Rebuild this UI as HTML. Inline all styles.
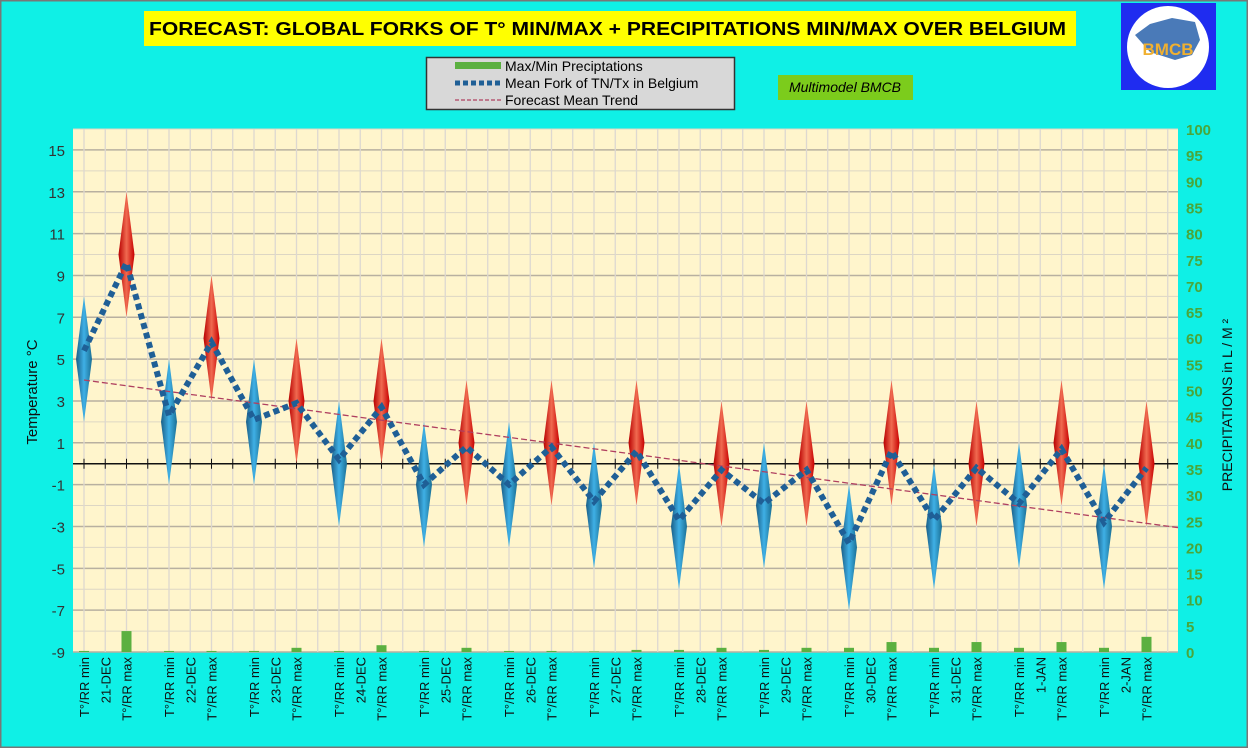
<!DOCTYPE html>
<html><head><meta charset="utf-8"><style>
html,body{margin:0;padding:0;background:#0ff0e6;}
svg{display:block;font-family:"Liberation Sans",Arial,sans-serif;}
</style></head><body>
<svg id="chart" width="1248" height="748" viewBox="0 0 1248 748" xmlns="http://www.w3.org/2000/svg">
<defs>
<linearGradient id="gBlue" x1="0" x2="1" y1="0" y2="0"><stop offset="0" stop-color="#1a5e86"/><stop offset="0.5" stop-color="#3fb0e6"/><stop offset="1" stop-color="#1a6f94"/></linearGradient>
<linearGradient id="gRed" x1="0" x2="1" y1="0" y2="0"><stop offset="0" stop-color="#b80000"/><stop offset="0.5" stop-color="#f06a50"/><stop offset="1" stop-color="#c80000"/></linearGradient>
</defs>
<rect x="0.5" y="0.5" width="1247" height="747" fill="#0ff0e6" stroke="#777" stroke-width="2"/>
<rect x="144" y="11" width="932" height="35" fill="#ffff00"/>
<text x="149" y="35" font-size="18" font-weight="bold" textLength="917" lengthAdjust="spacingAndGlyphs">FORECAST: GLOBAL FORKS OF T° MIN/MAX + PRECIPITATIONS MIN/MAX OVER  BELGIUM</text>
<g>
<rect x="1121" y="3" width="95" height="87" fill="#1f2cf0"/>
<circle cx="1168" cy="47" r="41" fill="#fff"/>
<path d="M1135 35 L1150 24 L1172 18 L1195 22 L1200 40 L1192 55 L1175 60 L1150 52 Z" fill="#4a7ab8"/>
<text x="1168" y="55" font-size="17" font-weight="bold" fill="#f0b030" text-anchor="middle">BMCB</text>
</g>
<g>
<rect x="426.5" y="57.5" width="308" height="52" fill="#d8d8d8" stroke="#333" stroke-width="1.5"/>
<rect x="455" y="62" width="46" height="7" fill="#5bb040"/>
<text x="505" y="71" font-size="14">Max/Min Preciptations</text>
<line x1="455" y1="83" x2="501" y2="83" stroke="#1f5f96" stroke-width="5" stroke-dasharray="5,3"/>
<text x="505" y="88" font-size="14">Mean Fork of TN/Tx in Belgium</text>
<line x1="455" y1="100" x2="501" y2="100" stroke="#b04060" stroke-width="1.3" stroke-dasharray="4,2"/>
<text x="505" y="105" font-size="14">Forecast Mean Trend</text>
</g>
<rect x="778" y="75" width="135" height="25" fill="#7ccc1c"/>
<text x="845" y="92" font-size="14" font-style="italic" text-anchor="middle">Multimodel BMCB</text>
<rect x="73" y="129" width="1105" height="523" fill="#fff5cc"/>
<g id="grid"></g><g id="bars"></g><g id="marks"></g><g id="axes"></g>
<text transform="translate(37,392) rotate(-90)" font-size="15" text-anchor="middle" fill="#111">Temperature  °C</text>
<text transform="translate(1232,405) rotate(-90)" font-size="14" text-anchor="middle" fill="#111">PRECIPITATIONS in L / M ²</text>
</svg>
<script>
const days = ["21-DEC","22-DEC","23-DEC","24-DEC","25-DEC","26-DEC","27-DEC","28-DEC","29-DEC","30-DEC","31-DEC","1-JAN","2-JAN"];
const forkTop =    [8,13, 5,9, 5,6, 3,6, 2,4, 2,4, 1,4, 0,3, 1,3, -1,4, 0,3, 1,4, 0,3];
const forkBottom = [2,7, -1,3, -1,0, -3,0, -4,-2, -4,-2, -5,-2, -6,-3, -5,-3, -7,-2, -6,-3, -5,-2, -6,-3];
const meanFork =   [5.4,9.6, 2.3,5.8, 2.1,2.9, 0.2,2.7, -1,0.8, -1,0.8, -1.8,0.6, -2.7,-0.3, -1.9,-0.3, -3.8,0.6, -2.7,-0.2, -1.9,0.7, -2.8,-0.2];
const precip =     [0.2,4, 0.2,0.2, 0.2,0.8, 0.2,1.3, 0.2,0.8, 0.2,0.2, 0.1,0.4, 0.4,0.8, 0.4,0.8, 0.8,1.9, 0.8,1.9, 0.8,1.9, 0.8,2.9];
const trendEnds = [4.0, -2.85];
const tempTicks = [-9,-7,-5,-3,-1,1,3,5,7,9,11,13,15];
const precipTicks = [0,5,10,15,20,25,30,35,40,45,50,55,60,65,70,75,80,85,90,95,100];

const NS="http://www.w3.org/2000/svg";
const PL=73, PR=1178, PB=652, PT=129;
const yT = v => PB - (v+9)*(PB-PT)/25;
const yP = v => PB - v*(PB-PT)/100;
const slot = 21.25;
const xS = s => 84 + s*slot;
const xPt = i => xS(Math.floor(i/2)*4 + (i%2)*2);
function mk(tag, attrs, parent){const e=document.createElementNS(NS,tag);for(const k in attrs)e.setAttribute(k,attrs[k]);parent.appendChild(e);return e;}
const grid=document.getElementById('grid'), bars=document.getElementById('bars'), marks=document.getElementById('marks'), axes=document.getElementById('axes');

// grid
for(let v=-9; v<=16; v++){
  const g=mk('line',{x1:PL,x2:PR,y1:yT(v),y2:yT(v),stroke:(v%2!==0)?'#b8b0a0':'#ddd6c4','stroke-width':(v%2!==0)?1.5:1},grid);
  
  
}
for(let x=84; x<PR; x+=slot){
  const g=mk('line',{x1:x,x2:x,y1:PT,y2:PB,stroke:'#ddd8d0','stroke-width':1.3},grid);
  
  
}
// zero line
const z=mk('line',{x1:PL,x2:PR,y1:yT(0),y2:yT(0),stroke:'#111','stroke-width':1.5},grid);


for(let x=84; x<PR; x+=slot){
  const t=mk('line',{x1:x,x2:x,y1:yT(0)-5,y2:yT(0)+5,stroke:'#111','stroke-width':1},grid);
  
  
}
// precip bars
precip.forEach((v,i)=>{
  const b=mk('rect',{x:xPt(i)-5,y:yP(v),width:10,height:PB-yP(v),fill:'#5bb040'},bars);
  
  
});
// diamonds
forkTop.forEach((t,i)=>{
  const x=xPt(i), b=forkBottom[i], m=(yT(t)+yT(b))/2, w=8;
  const p=mk('path',{d:`M${x},${yT(t)} L${x+w},${m} L${x},${yT(b)} L${x-w},${m} Z`,fill:i%2?'url(#gRed)':'url(#gBlue)'},marks);
  
  
});
// trend
const tr=mk('line',{x1:xPt(0),y1:yT(trendEnds[0]),x2:xPt(25)+(PR-xPt(25)),y2:yT(trendEnds[0]+(trendEnds[1]-trendEnds[0])*(PR-xPt(0))/(xPt(25)-xPt(0))),stroke:'#b04060','stroke-width':1.3,'stroke-dasharray':'6,3'},marks);


// mean fork
const pts=meanFork.map((v,i)=>xPt(i)+','+yT(v)).join(' ');
const ml=mk('polyline',{points:pts,fill:'none',stroke:'#1f5f96','stroke-width':6,'stroke-dasharray':'6,4'},marks);


// axes labels
tempTicks.forEach(v=>{
  const t=mk('text',{x:65,y:yT(v)+6,'font-size':15,'text-anchor':'end',fill:'#333'},axes);
  t.textContent=v;
  
  
});
precipTicks.forEach(v=>{
  const t=mk('text',{x:1186,y:yP(v)+6,'font-size':15,'font-weight':'bold',fill:'#4aa63a'},axes);
  t.textContent=v;
  
  
});
days.forEach((d,k)=>{
  const labs=[['T°/RR min',0],[d,1],['T°/RR max',2]];
  labs.forEach(([s,o])=>{
    const x=xS(k*4+o)+5;
    const t=mk('text',{transform:`translate(${x},657) rotate(-90)`,'font-size':13,'text-anchor':'end',fill:'#111'},axes);
    t.textContent=s;
    
    
  });
});
</script>
</body></html>
